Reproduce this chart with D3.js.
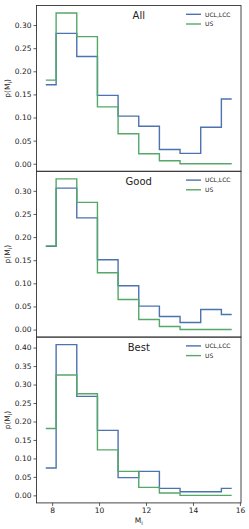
<!DOCTYPE html>
<html>
<head>
<meta charset="utf-8">
<script src="https://cdn.jsdelivr.net/npm/d3@7"></script>
<style>
  body { margin: 0; background: #fff; }
  text { font-family: "DejaVu Sans", sans-serif; fill: #222; }
</style>
</head>
<body>
<div id="chart"></div>
<script>
var W = 249, H = 529;
var left = 36.5, right = 241;
var top0 = 5.5, panelH = 165.8;

// magnitude bin centres
var mags = [7.73, 8.61, 9.49, 10.37, 11.25, 12.13, 13.01, 13.89, 14.77, 15.65];

var panelNames = ["All", "Good", "Best"];
var uclAll  = [0.171, 0.282, 0.232, 0.148, 0.103, 0.081, 0.031, 0.0225, 0.079, 0.140];
var uclGood = [0.180, 0.306, 0.2415, 0.151, 0.0947, 0.0506, 0.0282, 0.0152, 0.0434, 0.0325];
var uclBest = [0.074, 0.408, 0.268, 0.176, 0.048, 0.065, 0.019, 0.0099, 0.0099, 0.019];
var usVals  = [0.181, 0.326, 0.275, 0.123, 0.065, 0.0217, 0.0065, 0, 0, 0];
var uclSeries = [uclAll, uclGood, uclBest];

var yTicksSmall = [0, 0.05, 0.10, 0.15, 0.20, 0.25, 0.30];
var yTicksBig = [0, 0.05, 0.10, 0.15, 0.20, 0.25, 0.30, 0.35, 0.40];
var xTicks = [8, 10, 12, 14, 16];

var blue = "#4c72b0", green = "#55a868";

var svg = d3.select("#chart").append("svg")
    .attr("width", W)
    .attr("height", H);

var xmin = d3.min(mags), xmax = d3.max(mags);
var xpad = (xmax - xmin) * 0.05;
var x = d3.scaleLinear().domain([xmin - xpad, xmax + xpad]).range([left, right]);

panelNames.forEach(function(name, i) {
  var ucl = uclSeries[i];
  var ptop = top0 + i * panelH;
  var pbot = ptop + panelH;
  var ymax = Math.max(d3.max(ucl), d3.max(usVals));
  var ypad = ymax * 0.05;
  var y = d3.scaleLinear().domain([-ypad, ymax + ypad]).range([pbot, ptop]);

  var g = svg.append("g");

  var line = d3.line()
      .x(function(d, j) { return x(mags[j]); })
      .y(function(d) { return y(d); })
      .curve(d3.curveStep);

  g.append("path").datum(ucl)
    .attr("d", line)
    .attr("fill", "none")
    .attr("stroke", blue)
    .attr("stroke-width", 1.4);

  g.append("path").datum(usVals)
    .attr("d", line)
    .attr("fill", "none")
    .attr("stroke", green)
    .attr("stroke-width", 1.4);

  // frame
  g.append("rect")
    .attr("x", left).attr("y", ptop)
    .attr("width", right - left).attr("height", panelH)
    .attr("fill", "none")
    .attr("stroke", "#333")
    .attr("stroke-width", 0.9);

  // y axis
  var yAxis = d3.axisLeft(y)
      .tickValues(i == 2 ? yTicksBig : yTicksSmall)
      .tickFormat(d3.format(".2f"))
      .tickSize(3)
      .tickPadding(2);
  var ya = g.append("g")
      .attr("transform", "translate(" + left + ",0)")
      .call(yAxis);
  ya.select(".domain").remove();
  ya.selectAll("line").attr("stroke", "#333").attr("stroke-width", 0.8);
  ya.selectAll("text")
    .style("font-family", "DejaVu Sans")
    .style("font-size", "7.5px")
    .attr("fill", "#222");

  // y label
  var yl = g.append("text")
    .attr("transform", "translate(10," + (ptop + panelH / 2) + ") rotate(-90)")
    .attr("text-anchor", "middle")
    .style("font-size", "7.5px");
  yl.append("tspan").text("p(M");
  yl.append("tspan").attr("baseline-shift", "-25%").style("font-size", "5.5px").text("i");
  yl.append("tspan").text(")");

  // title
  g.append("text")
    .attr("x", (left + right) / 2)
    .attr("y", ptop + 13.5)
    .attr("text-anchor", "middle")
    .style("font-size", "10px")
    .text(name);

  // legend
  var legend = [["UCL,LCC", blue], ["US", green]];
  legend.forEach(function(l, k) {
    var ly = ptop + 8.8 + k * 9.7;
    g.append("line")
      .attr("x1", right - 55).attr("x2", right - 40)
      .attr("y1", ly).attr("y2", ly)
      .attr("stroke", l[1]).attr("stroke-width", 1.4);
    g.append("text")
      .attr("x", right - 36)
      .attr("y", ly + 2.2)
      .style("font-size", "6px")
      .text(l[0]);
  });

  if (i == 2) {
    var xAxis = d3.axisBottom(x).tickValues(xTicks).tickSize(3).tickPadding(2);
    var xa = g.append("g")
        .attr("transform", "translate(0," + pbot + ")")
        .call(xAxis);
    xa.select(".domain").remove();
    xa.selectAll("line").attr("stroke", "#333").attr("stroke-width", 0.8);
    xa.selectAll("text")
      .style("font-family", "DejaVu Sans")
      .style("font-size", "7.5px")
      .attr("fill", "#222");

    var xl = g.append("text")
      .attr("x", (left + right) / 2)
      .attr("y", 523)
      .attr("text-anchor", "middle")
      .style("font-size", "7.5px");
    xl.append("tspan").text("M");
    xl.append("tspan").attr("baseline-shift", "-25%").style("font-size", "5.5px").text("i");
  }
});
</script>
</body>
</html>
